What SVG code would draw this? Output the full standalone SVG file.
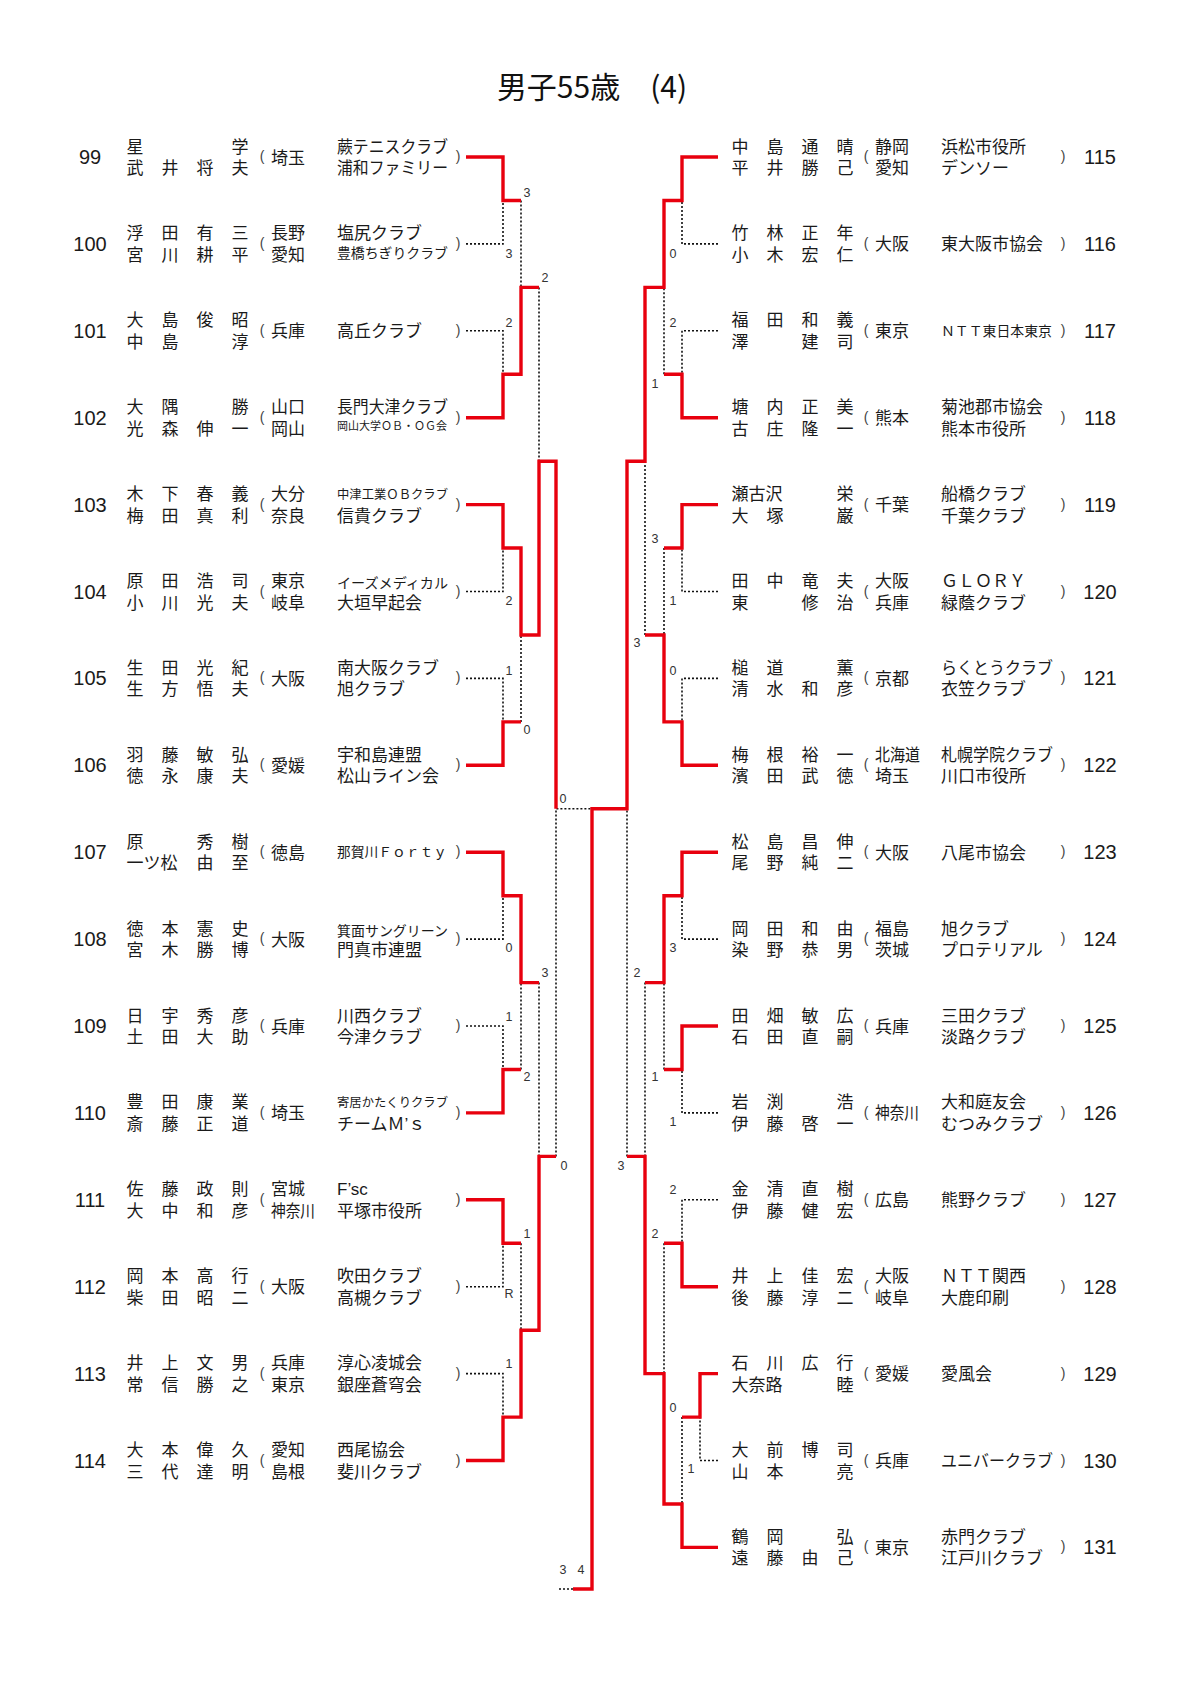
<svg xmlns="http://www.w3.org/2000/svg" width="1190" height="1682" viewBox="0 0 1190 1682">
<style>
text{font-family:"Liberation Sans","Noto Sans CJK JP",sans-serif;fill:#1a1a1a}
.ttl{font-family:"Noto Sans CJK JP","Liberation Sans",sans-serif;font-size:30px;text-anchor:middle;fill:#111}
.n{font-family:"Liberation Sans",Arial,sans-serif;font-size:20px;text-anchor:middle}
.t{font-size:17px}
.m{text-anchor:middle}
.pa{font-family:"Liberation Sans",Arial,sans-serif;font-size:14px;text-anchor:middle;fill:#444}
.s{font-family:"Liberation Sans",Arial,sans-serif;font-size:12.5px;text-anchor:middle;fill:#333}
.w{fill:none;stroke:#e8000e;stroke-width:3.4;stroke-linejoin:miter}
.d{fill:none;stroke:#111;stroke-width:1.6;stroke-dasharray:2 2}
</style>
<rect width="1190" height="1682" fill="#fff"/>
<text class="ttl" x="592" y="98">男子55歳　(4)</text>

<g id="connectors">
<g id="losers">
<path class="d" d="M466 243.9H503V200.5M466 330.8H503V374.3M466 591.5H503V548M466 678.4H503V721.9M466 939.1H503V895.7M466 1026H503V1069.5M466 1286.7H503V1243.3M466 1373.6H503V1417.1M521 200.5V287.4M521 721.9V635M521 1069.5V982.6M521 1243.3V1330.2M539 287.4V461.2M539 982.6V1156.4M556 1156.4V808.8H592"/>
<path class="d" d="M718 243.9H682V200.5M718 330.8H682V374.3M718 591.5H682V548M718 678.4H682V721.9M718 939.1H682V895.7M718 1112.9H682V1069.5M718 1199.8H682V1243.3M718 1460.5H700V1417.1M682 1417.1V1504M664 374.3V287.4M664 548V635M664 1069.5V982.6M664 1243.3V1373.6M645 635V461.2M645 982.6V1156.4M627 1156.4V808.8M573 1589H557"/>
</g>
<g id="winners">
<path class="w" d="M466 157H503V200.5H521"/>
<path class="w" d="M466 417.7H503V374.3H521V287.4H539"/>
<path class="w" d="M466 504.6H503V548H521V635H539V461.2H556V808.8"/>
<path class="w" d="M466 765.3H503V721.9H521"/>
<path class="w" d="M466 852.2H503V895.7H521V982.6H539"/>
<path class="w" d="M466 1112.9H503V1069.5H521"/>
<path class="w" d="M466 1199.8H503V1243.3H521"/>
<path class="w" d="M466 1460.5H503V1417.1H521V1330.2H539V1156.4H556"/>
<path class="w" d="M718 157H682V200.5H664V287.4H645V461.2H627V808.8H592V1589H573"/>
<path class="w" d="M718 417.7H682V374.3H664"/>
<path class="w" d="M718 504.6H682V548H664"/>
<path class="w" d="M718 765.3H682V721.9H664V635H645"/>
<path class="w" d="M718 852.2H682V895.7H664V982.6H645"/>
<path class="w" d="M718 1026H682V1069.5H664"/>
<path class="w" d="M718 1286.7H682V1243.3H664"/>
<path class="w" d="M718 1373.6H700V1417.1H682"/>
<path class="w" d="M718 1547.4H682V1504H664V1373.6H645V1156.4H627"/>
</g>
<g id="scores">
<text class="s" x="527" y="196.5">3</text><text class="s" x="509" y="257.5">3</text><text class="s" x="545" y="281.5">2</text><text class="s" x="509" y="326.5">2</text>
<text class="s" x="509" y="604.5">2</text><text class="s" x="509" y="674.5">1</text><text class="s" x="527" y="733.5">0</text><text class="s" x="563" y="802.5">0</text>
<text class="s" x="509" y="951.5">0</text><text class="s" x="545" y="976.5">3</text><text class="s" x="509" y="1020.5">1</text><text class="s" x="527" y="1080.5">2</text>
<text class="s" x="564" y="1169.5">0</text><text class="s" x="527" y="1237.5">1</text><text class="s" x="509" y="1297.5">R</text><text class="s" x="509" y="1367.5">1</text>
<text class="s" x="563" y="1573.5">3</text><text class="s" x="581" y="1573.5">4</text>
<text class="s" x="673" y="257.5">0</text><text class="s" x="673" y="326.5">2</text><text class="s" x="655" y="387.5">1</text><text class="s" x="655" y="542.5">3</text>
<text class="s" x="673" y="604.5">1</text><text class="s" x="673" y="674.5">0</text><text class="s" x="637" y="646.5">3</text><text class="s" x="673" y="951.5">3</text>
<text class="s" x="637" y="976.5">2</text><text class="s" x="655" y="1080.5">1</text><text class="s" x="673" y="1125.5">1</text><text class="s" x="621" y="1169.5">3</text>
<text class="s" x="673" y="1193.5">2</text><text class="s" x="655" y="1237.5">2</text><text class="s" x="673" y="1411.5">0</text><text class="s" x="691" y="1472.5">1</text>
</g>
</g>

<g id="left">
<g id="p99" transform="translate(0,157)"><text class="n" x="90" y="7">99</text><text class="t m" x="135 240" y="-4.5">星学</text><text class="t m" x="135 170 205 240" y="17">武井将夫</text><text class="pa" x="262" y="4">(</text><text class="t" x="271" y="6.5">埼玉</text><text class="t" x="337" y="-4.5" textLength="111" lengthAdjust="spacingAndGlyphs">蕨テニスクラブ</text><text class="t" x="337" y="17" textLength="111" lengthAdjust="spacingAndGlyphs">浦和ファミリー</text><text class="pa" x="458" y="4">)</text></g>
<g id="p100" transform="translate(0,243.9)"><text class="n" x="90" y="7">100</text><text class="t m" x="135 170 205 240" y="-4.5">浮田有三</text><text class="t m" x="135 170 205 240" y="17">宮川耕平</text><text class="pa" x="262" y="4">(</text><text class="t" x="271" y="-4.5">長野</text><text class="t" x="271" y="17">愛知</text><text class="t" x="337" y="-4.5">塩尻クラブ</text><text class="t" x="337" y="14" style="font-size:14px" textLength="111" lengthAdjust="spacingAndGlyphs">豊橋ちぎりクラブ</text><text class="pa" x="458" y="4">)</text></g>
<g id="p101" transform="translate(0,330.8)"><text class="n" x="90" y="7">101</text><text class="t m" x="135 170 205 240" y="-4.5">大島俊昭</text><text class="t m" x="135 170 240" y="17">中島淳</text><text class="pa" x="262" y="4">(</text><text class="t" x="271" y="6.5">兵庫</text><text class="t" x="337" y="6.5">高丘クラブ</text><text class="pa" x="458" y="4">)</text></g>
<g id="p102" transform="translate(0,417.7)"><text class="n" x="90" y="7">102</text><text class="t m" x="135 170 240" y="-4.5">大隅勝</text><text class="t m" x="135 170 205 240" y="17">光森伸一</text><text class="pa" x="262" y="4">(</text><text class="t" x="271" y="-4.5">山口</text><text class="t" x="271" y="17">岡山</text><text class="t" x="337" y="-4.5" textLength="111" lengthAdjust="spacingAndGlyphs">長門大津クラブ</text><text class="t" x="337" y="12" style="font-size:11px" textLength="110" lengthAdjust="spacingAndGlyphs">岡山大学ＯＢ・ＯＧ会</text><text class="pa" x="458" y="4">)</text></g>
<g id="p103" transform="translate(0,504.6)"><text class="n" x="90" y="7">103</text><text class="t m" x="135 170 205 240" y="-4.5">木下春義</text><text class="t m" x="135 170 205 240" y="17">梅田真利</text><text class="pa" x="262" y="4">(</text><text class="t" x="271" y="-4.5">大分</text><text class="t" x="271" y="17">奈良</text><text class="t" x="337" y="-6" style="font-size:12.5px" textLength="111" lengthAdjust="spacingAndGlyphs">中津工業ＯＢクラブ</text><text class="t" x="337" y="17">信貴クラブ</text><text class="pa" x="458" y="4">)</text></g>
<g id="p104" transform="translate(0,591.5)"><text class="n" x="90" y="7">104</text><text class="t m" x="135 170 205 240" y="-4.5">原田浩司</text><text class="t m" x="135 170 205 240" y="17">小川光夫</text><text class="pa" x="262" y="4">(</text><text class="t" x="271" y="-4.5">東京</text><text class="t" x="271" y="17">岐阜</text><text class="t" x="337" y="-4" style="font-size:14px" textLength="111" lengthAdjust="spacingAndGlyphs">イーズメディカル</text><text class="t" x="337" y="17">大垣早起会</text><text class="pa" x="458" y="4">)</text></g>
<g id="p105" transform="translate(0,678.4)"><text class="n" x="90" y="7">105</text><text class="t m" x="135 170 205 240" y="-4.5">生田光紀</text><text class="t m" x="135 170 205 240" y="17">生方悟夫</text><text class="pa" x="262" y="4">(</text><text class="t" x="271" y="6.5">大阪</text><text class="t" x="337" y="-4.5">南大阪クラブ</text><text class="t" x="337" y="17">旭クラブ</text><text class="pa" x="458" y="4">)</text></g>
<g id="p106" transform="translate(0,765.3)"><text class="n" x="90" y="7">106</text><text class="t m" x="135 170 205 240" y="-4.5">羽藤敏弘</text><text class="t m" x="135 170 205 240" y="17">徳永康夫</text><text class="pa" x="262" y="4">(</text><text class="t" x="271" y="6.5">愛媛</text><text class="t" x="337" y="-4.5">宇和島連盟</text><text class="t" x="337" y="17">松山ライン会</text><text class="pa" x="458" y="4">)</text></g>
<g id="p107" transform="translate(0,852.2)"><text class="n" x="90" y="7">107</text><text class="t m" x="135 205 240" y="-4.5">原秀樹</text><text class="t m" x="135 152 169 205 240" y="17">一ツ松由至</text><text class="pa" x="262" y="4">(</text><text class="t" x="271" y="6.5">徳島</text><text class="t" x="337" y="5" style="font-size:13.5px" textLength="110" lengthAdjust="spacingAndGlyphs">那賀川Ｆｏｒｔｙ</text><text class="pa" x="458" y="4">)</text></g>
<g id="p108" transform="translate(0,939.1)"><text class="n" x="90" y="7">108</text><text class="t m" x="135 170 205 240" y="-4.5">徳本憲史</text><text class="t m" x="135 170 205 240" y="17">宮木勝博</text><text class="pa" x="262" y="4">(</text><text class="t" x="271" y="6.5">大阪</text><text class="t" x="337" y="-3" style="font-size:14px" textLength="111" lengthAdjust="spacingAndGlyphs">箕面サングリーン</text><text class="t" x="337" y="17">門真市連盟</text><text class="pa" x="458" y="4">)</text></g>
<g id="p109" transform="translate(0,1026)"><text class="n" x="90" y="7">109</text><text class="t m" x="135 170 205 240" y="-4.5">日宇秀彦</text><text class="t m" x="135 170 205 240" y="17">土田大助</text><text class="pa" x="262" y="4">(</text><text class="t" x="271" y="6.5">兵庫</text><text class="t" x="337" y="-4.5">川西クラブ</text><text class="t" x="337" y="17">今津クラブ</text><text class="pa" x="458" y="4">)</text></g>
<g id="p110" transform="translate(0,1112.9)"><text class="n" x="90" y="7">110</text><text class="t m" x="135 170 205 240" y="-4.5">豊田康業</text><text class="t m" x="135 170 205 240" y="17">斎藤正道</text><text class="pa" x="262" y="4">(</text><text class="t" x="271" y="6.5">埼玉</text><text class="t" x="337" y="-5.5" style="font-size:12.5px" textLength="111" lengthAdjust="spacingAndGlyphs">寄居かたくりクラブ</text><text class="t" x="337" y="17">チームＭ’ｓ</text><text class="pa" x="458" y="4">)</text></g>
<g id="p111" transform="translate(0,1199.8)"><text class="n" x="90" y="7">111</text><text class="t m" x="135 170 205 240" y="-4.5">佐藤政則</text><text class="t m" x="135 170 205 240" y="17">大中和彦</text><text class="pa" x="262" y="4">(</text><text class="t" x="271" y="-4.5">宮城</text><text class="t" x="271" y="17" textLength="44" lengthAdjust="spacingAndGlyphs">神奈川</text><text class="t" x="337" y="-4.5">F’sc</text><text class="t" x="337" y="17">平塚市役所</text><text class="pa" x="458" y="4">)</text></g>
<g id="p112" transform="translate(0,1286.7)"><text class="n" x="90" y="7">112</text><text class="t m" x="135 170 205 240" y="-4.5">岡本高行</text><text class="t m" x="135 170 205 240" y="17">柴田昭二</text><text class="pa" x="262" y="4">(</text><text class="t" x="271" y="6.5">大阪</text><text class="t" x="337" y="-4.5">吹田クラブ</text><text class="t" x="337" y="17">高槻クラブ</text><text class="pa" x="458" y="4">)</text></g>
<g id="p113" transform="translate(0,1373.6)"><text class="n" x="90" y="7">113</text><text class="t m" x="135 170 205 240" y="-4.5">井上文男</text><text class="t m" x="135 170 205 240" y="17">常信勝之</text><text class="pa" x="262" y="4">(</text><text class="t" x="271" y="-4.5">兵庫</text><text class="t" x="271" y="17">東京</text><text class="t" x="337" y="-4.5">淳心凌城会</text><text class="t" x="337" y="17">銀座蒼穹会</text><text class="pa" x="458" y="4">)</text></g>
<g id="p114" transform="translate(0,1460.5)"><text class="n" x="90" y="7">114</text><text class="t m" x="135 170 205 240" y="-4.5">大本偉久</text><text class="t m" x="135 170 205 240" y="17">三代達明</text><text class="pa" x="262" y="4">(</text><text class="t" x="271" y="-4.5">愛知</text><text class="t" x="271" y="17">島根</text><text class="t" x="337" y="-4.5">西尾協会</text><text class="t" x="337" y="17">斐川クラブ</text><text class="pa" x="458" y="4">)</text></g>
</g>

<g id="right">
<g id="p115" transform="translate(0,157)"><text class="t m" x="740 775 810 845" y="-4.5">中島通晴</text><text class="t m" x="740 775 810 845" y="17">平井勝己</text><text class="pa" x="866" y="4">(</text><text class="t" x="875" y="-4.5">静岡</text><text class="t" x="875" y="17">愛知</text><text class="t" x="941" y="-4.5">浜松市役所</text><text class="t" x="941" y="17">デンソー</text><text class="pa" x="1063" y="4">)</text><text class="n" x="1100" y="7">115</text></g>
<g id="p116" transform="translate(0,243.9)"><text class="t m" x="740 775 810 845" y="-4.5">竹林正年</text><text class="t m" x="740 775 810 845" y="17">小木宏仁</text><text class="pa" x="866" y="4">(</text><text class="t" x="875" y="6.5">大阪</text><text class="t" x="941" y="6.5">東大阪市協会</text><text class="pa" x="1063" y="4">)</text><text class="n" x="1100" y="7">116</text></g>
<g id="p117" transform="translate(0,330.8)"><text class="t m" x="740 775 810 845" y="-4.5">福田和義</text><text class="t m" x="740 810 845" y="17">澤建司</text><text class="pa" x="866" y="4">(</text><text class="t" x="875" y="6.5">東京</text><text class="t" x="941" y="5" style="font-size:13.5px" textLength="111" lengthAdjust="spacingAndGlyphs">ＮＴＴ東日本東京</text><text class="pa" x="1063" y="4">)</text><text class="n" x="1100" y="7">117</text></g>
<g id="p118" transform="translate(0,417.7)"><text class="t m" x="740 775 810 845" y="-4.5">塘内正美</text><text class="t m" x="740 775 810 845" y="17">古庄隆一</text><text class="pa" x="866" y="4">(</text><text class="t" x="875" y="6.5">熊本</text><text class="t" x="941" y="-4.5">菊池郡市協会</text><text class="t" x="941" y="17">熊本市役所</text><text class="pa" x="1063" y="4">)</text><text class="n" x="1100" y="7">118</text></g>
<g id="p119" transform="translate(0,504.6)"><text class="t m" x="740 757 774 845" y="-4.5">瀬古沢栄</text><text class="t m" x="740 775 845" y="17">大塚巌</text><text class="pa" x="866" y="4">(</text><text class="t" x="875" y="6.5">千葉</text><text class="t" x="941" y="-4.5">船橋クラブ</text><text class="t" x="941" y="17">千葉クラブ</text><text class="pa" x="1063" y="4">)</text><text class="n" x="1100" y="7">119</text></g>
<g id="p120" transform="translate(0,591.5)"><text class="t m" x="740 775 810 845" y="-4.5">田中竜夫</text><text class="t m" x="740 810 845" y="17">東修治</text><text class="pa" x="866" y="4">(</text><text class="t" x="875" y="-4.5">大阪</text><text class="t" x="875" y="17">兵庫</text><text class="t" x="941" y="-4.5">ＧＬＯＲＹ</text><text class="t" x="941" y="17">緑蔭クラブ</text><text class="pa" x="1063" y="4">)</text><text class="n" x="1100" y="7">120</text></g>
<g id="p121" transform="translate(0,678.4)"><text class="t m" x="740 775 845" y="-4.5">槌道薫</text><text class="t m" x="740 775 810 845" y="17">清水和彦</text><text class="pa" x="866" y="4">(</text><text class="t" x="875" y="6.5">京都</text><text class="t" x="941" y="-4.5" textLength="112" lengthAdjust="spacingAndGlyphs">らくとうクラブ</text><text class="t" x="941" y="17">衣笠クラブ</text><text class="pa" x="1063" y="4">)</text><text class="n" x="1100" y="7">121</text></g>
<g id="p122" transform="translate(0,765.3)"><text class="t m" x="740 775 810 845" y="-4.5">梅根裕一</text><text class="t m" x="740 775 810 845" y="17">濱田武徳</text><text class="pa" x="866" y="4">(</text><text class="t" x="875" y="-4.5" textLength="45" lengthAdjust="spacingAndGlyphs">北海道</text><text class="t" x="875" y="17">埼玉</text><text class="t" x="941" y="-4.5" textLength="112" lengthAdjust="spacingAndGlyphs">札幌学院クラブ</text><text class="t" x="941" y="17">川口市役所</text><text class="pa" x="1063" y="4">)</text><text class="n" x="1100" y="7">122</text></g>
<g id="p123" transform="translate(0,852.2)"><text class="t m" x="740 775 810 845" y="-4.5">松島昌伸</text><text class="t m" x="740 775 810 845" y="17">尾野純二</text><text class="pa" x="866" y="4">(</text><text class="t" x="875" y="6.5">大阪</text><text class="t" x="941" y="6.5">八尾市協会</text><text class="pa" x="1063" y="4">)</text><text class="n" x="1100" y="7">123</text></g>
<g id="p124" transform="translate(0,939.1)"><text class="t m" x="740 775 810 845" y="-4.5">岡田和由</text><text class="t m" x="740 775 810 845" y="17">染野恭男</text><text class="pa" x="866" y="4">(</text><text class="t" x="875" y="-4.5">福島</text><text class="t" x="875" y="17">茨城</text><text class="t" x="941" y="-4.5">旭クラブ</text><text class="t" x="941" y="17">プロテリアル</text><text class="pa" x="1063" y="4">)</text><text class="n" x="1100" y="7">124</text></g>
<g id="p125" transform="translate(0,1026)"><text class="t m" x="740 775 810 845" y="-4.5">田畑敏広</text><text class="t m" x="740 775 810 845" y="17">石田直嗣</text><text class="pa" x="866" y="4">(</text><text class="t" x="875" y="6.5">兵庫</text><text class="t" x="941" y="-4.5">三田クラブ</text><text class="t" x="941" y="17">淡路クラブ</text><text class="pa" x="1063" y="4">)</text><text class="n" x="1100" y="7">125</text></g>
<g id="p126" transform="translate(0,1112.9)"><text class="t m" x="740 775 845" y="-4.5">岩渕浩</text><text class="t m" x="740 775 810 845" y="17">伊藤啓一</text><text class="pa" x="866" y="4">(</text><text class="t" x="875" y="6.5" textLength="44" lengthAdjust="spacingAndGlyphs">神奈川</text><text class="t" x="941" y="-4.5">大和庭友会</text><text class="t" x="941" y="17">むつみクラブ</text><text class="pa" x="1063" y="4">)</text><text class="n" x="1100" y="7">126</text></g>
<g id="p127" transform="translate(0,1199.8)"><text class="t m" x="740 775 810 845" y="-4.5">金清直樹</text><text class="t m" x="740 775 810 845" y="17">伊藤健宏</text><text class="pa" x="866" y="4">(</text><text class="t" x="875" y="6.5">広島</text><text class="t" x="941" y="6.5">熊野クラブ</text><text class="pa" x="1063" y="4">)</text><text class="n" x="1100" y="7">127</text></g>
<g id="p128" transform="translate(0,1286.7)"><text class="t m" x="740 775 810 845" y="-4.5">井上佳宏</text><text class="t m" x="740 775 810 845" y="17">後藤淳二</text><text class="pa" x="866" y="4">(</text><text class="t" x="875" y="-4.5">大阪</text><text class="t" x="875" y="17">岐阜</text><text class="t" x="941" y="-4.5">ＮＴＴ関西</text><text class="t" x="941" y="17">大鹿印刷</text><text class="pa" x="1063" y="4">)</text><text class="n" x="1100" y="7">128</text></g>
<g id="p129" transform="translate(0,1373.6)"><text class="t m" x="740 775 810 845" y="-4.5">石川広行</text><text class="t m" x="740 757 774 845" y="17">大奈路睦</text><text class="pa" x="866" y="4">(</text><text class="t" x="875" y="6.5">愛媛</text><text class="t" x="941" y="6.5">愛風会</text><text class="pa" x="1063" y="4">)</text><text class="n" x="1100" y="7">129</text></g>
<g id="p130" transform="translate(0,1460.5)"><text class="t m" x="740 775 810 845" y="-4.5">大前博司</text><text class="t m" x="740 775 845" y="17">山本亮</text><text class="pa" x="866" y="4">(</text><text class="t" x="875" y="6.5">兵庫</text><text class="t" x="941" y="6.5" textLength="112" lengthAdjust="spacingAndGlyphs">ユニバークラブ</text><text class="pa" x="1063" y="4">)</text><text class="n" x="1100" y="7">130</text></g>
<g id="p131" transform="translate(0,1547.4)"><text class="t m" x="740 775 845" y="-4.5">鶴岡弘</text><text class="t m" x="740 775 810 845" y="17">遠藤由己</text><text class="pa" x="866" y="4">(</text><text class="t" x="875" y="6.5">東京</text><text class="t" x="941" y="-4.5">赤門クラブ</text><text class="t" x="941" y="17">江戸川クラブ</text><text class="pa" x="1063" y="4">)</text><text class="n" x="1100" y="7">131</text></g>
</g>
</svg>
